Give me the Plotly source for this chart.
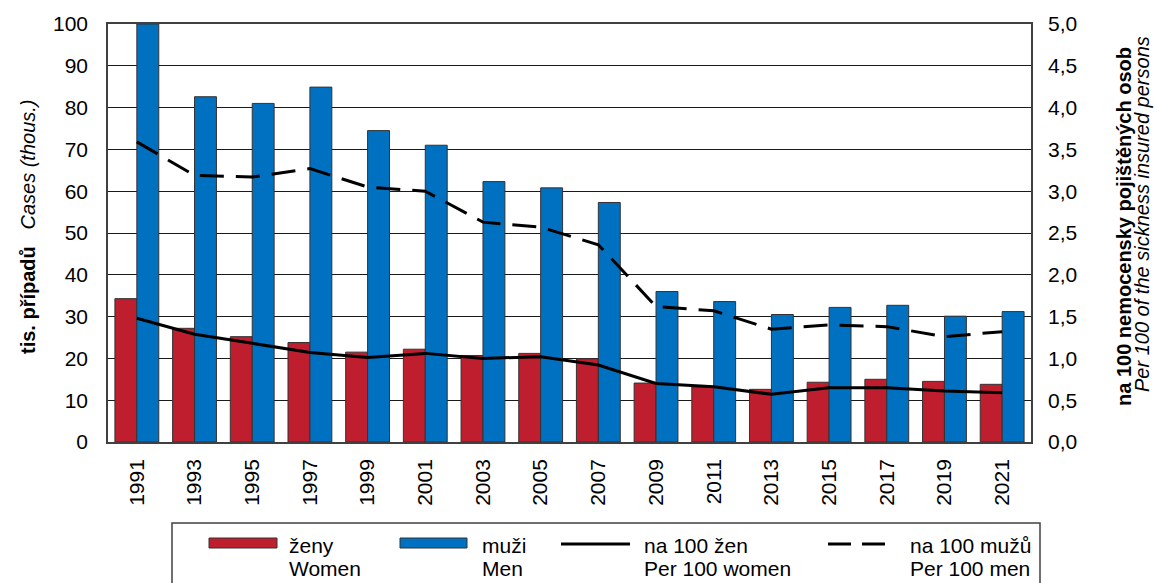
import plotly.graph_objects as go

years = ["1991", "1993", "1995", "1997", "1999", "2001", "2003", "2005",
         "2007", "2009", "2011", "2013", "2015", "2017", "2019", "2021"]
women_cases = [34.3, 27.2, 25.2, 23.8, 21.5, 22.2, 20.7, 21.2,
               19.9, 14.1, 13.2, 12.6, 14.3, 15.0, 14.5, 13.8]
men_cases = [100.0, 82.6, 81.0, 84.9, 74.5, 71.0, 62.3, 60.8,
             57.3, 36.0, 33.6, 30.5, 32.2, 32.7, 30.1, 31.2]
women_per100 = [1.48, 1.29, 1.18, 1.07, 1.01, 1.06, 1.00, 1.02,
                0.92, 0.70, 0.66, 0.57, 0.65, 0.65, 0.61, 0.59]
men_per100 = [3.59, 3.19, 3.17, 3.27, 3.05, 3.00, 2.63, 2.57,
              2.36, 1.62, 1.57, 1.35, 1.40, 1.38, 1.26, 1.32]

RED = "#BE1E2D"
BLUE = "#0070C0"
FONT = "Liberation Sans, Arial, sans-serif"

W, H = 1155, 583
L, R, T, B = 108, 1031, 24, 442


def px(x):
    return (x - L) / (R - L)


def py(y):
    return (B - y) / (B - T)


fig = go.Figure()
fig.add_trace(go.Bar(x=years, y=women_cases, name="ženy Women",
                     marker=dict(color=RED, line=dict(color="#333333", width=1)),
                     yaxis="y"))
fig.add_trace(go.Bar(x=years, y=men_cases, name="muži Men",
                     marker=dict(color=BLUE, line=dict(color="#333333", width=1)),
                     yaxis="y"))
fig.add_trace(go.Scatter(x=years, y=women_per100, name="na 100 žen",
                         mode="lines", line=dict(color="black", width=3),
                         yaxis="y2"))
fig.add_trace(go.Scatter(x=years, y=men_per100, name="na 100 mužů",
                         mode="lines",
                         line=dict(color="black", width=3, dash="24px,12px"),
                         yaxis="y2"))

shapes = []
annotations = []

# legend box
shapes.append(dict(type="rect", xref="paper", yref="paper",
                   x0=px(172), x1=px(1040), y0=py(523), y1=py(590),
                   line=dict(color="#404040", width=1.5), fillcolor="white",
                   layer="below"))
# legend symbols
shapes.append(dict(type="rect", xref="paper", yref="paper",
                   x0=px(209), x1=px(277), y0=py(538), y1=py(548),
                   line=dict(color="#333333", width=1), fillcolor=RED))
shapes.append(dict(type="rect", xref="paper", yref="paper",
                   x0=px(400), x1=px(467), y0=py(538), y1=py(548),
                   line=dict(color="#333333", width=1), fillcolor=BLUE))
shapes.append(dict(type="line", xref="paper", yref="paper",
                   x0=px(561), x1=px(630), y0=py(544), y1=py(544),
                   line=dict(color="black", width=3)))
shapes.append(dict(type="line", xref="paper", yref="paper",
                   x0=px(828), x1=px(885), y0=py(544), y1=py(544),
                   line=dict(color="black", width=3, dash="23px,11px")))

legend_items = [(289, "ženy", "Women"), (482, "muži", "Men"),
                (644, "na 100 žen", "Per 100 women"),
                (910, "na 100 mužů", "Per 100 men")]
for xx, l1, l2 in legend_items:
    annotations.append(dict(xref="paper", yref="paper", x=px(xx - 2), y=py(545),
                            text=l1, showarrow=False, xanchor="left",
                            yanchor="middle", font=dict(size=21, color="black", family=FONT)))
    annotations.append(dict(xref="paper", yref="paper", x=px(xx - 2), y=py(568),
                            text=l2, showarrow=False, xanchor="left",
                            yanchor="middle", font=dict(size=21, color="black", family=FONT)))

# axis titles
annotations.append(dict(xref="paper", yref="paper", x=px(28), y=py(227),
                        text="<b>tis. případů</b>   <i>Cases (thous.)</i>",
                        textangle=-90, showarrow=False, xanchor="center",
                        yanchor="middle", font=dict(size=20, color="black", family=FONT)))
annotations.append(dict(xref="paper", yref="paper", x=px(1124), y=py(227),
                        text="<b>na 100 nemocensky pojištěných osob</b>",
                        textangle=-90, showarrow=False, xanchor="center",
                        yanchor="middle", font=dict(size=20, color="black", family=FONT)))
annotations.append(dict(xref="paper", yref="paper", x=px(1142), y=py(214),
                        text="<i>Per 100 of the sickness insured persons</i>",
                        textangle=-90, showarrow=False, xanchor="center",
                        yanchor="middle", font=dict(size=20, color="black", family=FONT)))

fig.update_layout(
    width=W, height=H,
    margin=dict(l=L, r=W - R, t=T, b=H - B, pad=0),
    paper_bgcolor="white", plot_bgcolor="white",
    barmode="group", bargap=0.24, bargroupgap=0,
    showlegend=False,
    separators=",.",
    font=dict(family=FONT, size=21, color="black"),
    xaxis=dict(type="category", tickangle=-90, showgrid=False,
               showline=True, linecolor="#404040", linewidth=1.5, mirror=True,
               ticks="", ticklabelstandoff=7, tickfont=dict(size=21)),
    yaxis=dict(range=[0, 100], dtick=10, showgrid=True, gridcolor="#1a1a1a",
               gridwidth=1, showline=True, linecolor="#404040", linewidth=1.5,
               mirror=True, ticks="", zeroline=False, ticklabelstandoff=14,
               tickfont=dict(size=21)),
    yaxis2=dict(range=[0, 5], dtick=0.5, tickformat=".1f", overlaying="y",
                side="right", showgrid=False, zeroline=False, showline=False,
                ticks="", ticklabelstandoff=16, tickfont=dict(size=21)),
    shapes=shapes,
    annotations=annotations,
)

fig.write_html("out.html", config={"displayModeBar": False},
               post_script="document.body.style.margin='0px';document.body.style.overflow='hidden';")
